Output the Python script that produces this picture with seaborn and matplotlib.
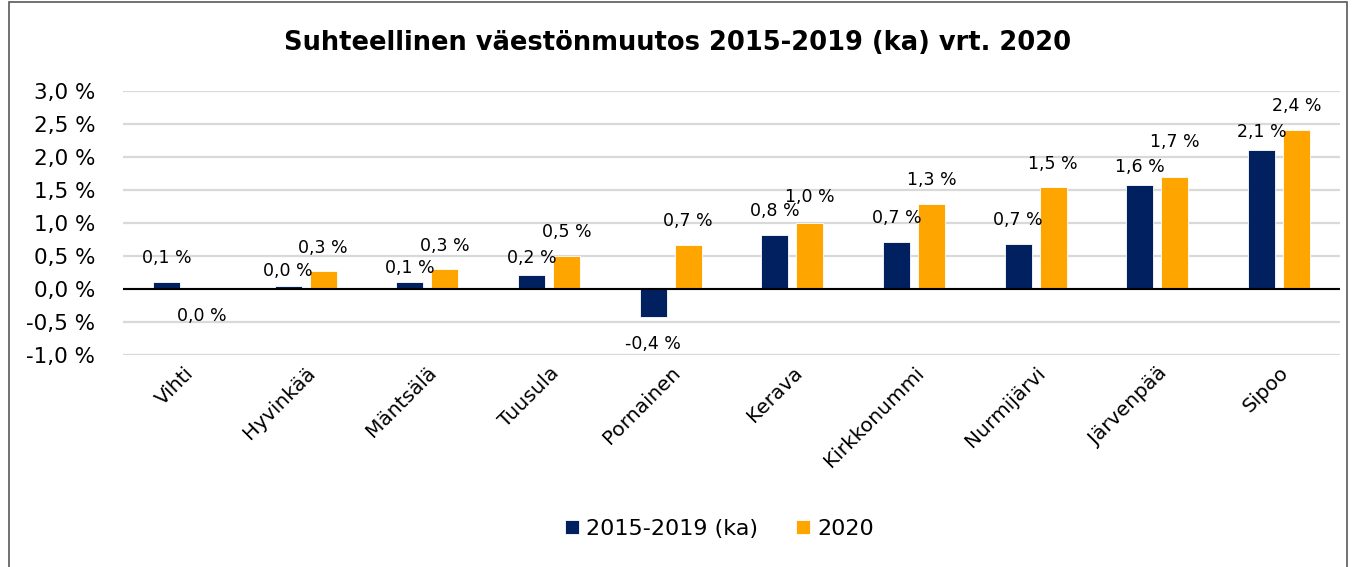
import pandas as pd
import matplotlib.pyplot as plt
import seaborn as sns
from matplotlib.ticker import FuncFormatter, MultipleLocator
from matplotlib.patches import Rectangle

# values (percent)
kunnat = ['Vihti', 'Hyvinkää', 'Mäntsälä', 'Tuusula', 'Pornainen',
          'Kerava', 'Kirkkonummi', 'Nurmijärvi', 'Järvenpää', 'Sipoo']
ka_2015_2019 = [0.11, 0.04, 0.10, 0.21, -0.43, 0.82, 0.71, 0.68, 1.58, 2.10]
v2020 = [-0.004, 0.27, 0.30, 0.50, 0.67, 1.00, 1.29, 1.54, 1.70, 2.41]
sarjat = ['2015-2019 (ka)', '2020']
varit = ['#002060', '#FFA500']

df = pd.DataFrame({
    'kunta': kunnat * 2,
    'sarja': [sarjat[0]] * len(kunnat) + [sarjat[1]] * len(kunnat),
    'arvo': ka_2015_2019 + v2020,
})

# label nudges (points) where Excel moved labels to avoid collisions
nudge = {(0, 1): -6, (0, 2): -7, (0, 3): -5, (0, 8): -4, (0, 9): -4,
         (1, 8): 8, (1, 5): 2}


def pct(v, pos=None):
    return f'{v:.1f} %'.replace('.', ',')


sns.set_style('white')
plt.rcParams['font.family'] = ['DejaVu Sans']
plt.rcParams['text.color'] = 'black'
plt.rcParams['xtick.color'] = 'black'
plt.rcParams['ytick.color'] = 'black'

fig = plt.figure(figsize=(13.55, 5.67), dpi=100)
ax = fig.add_axes([0.0908, 0.374, 0.898, 0.4655])

sns.barplot(data=df, x='kunta', y='arvo', hue='sarja', palette=varit,
            width=0.575, gap=0.23, ax=ax, saturation=1,
            edgecolor='white', linewidth=0.6)

ax.set_ylim(-1.0, 3.0)
ax.yaxis.set_major_locator(MultipleLocator(0.5))
ax.yaxis.set_major_formatter(FuncFormatter(pct))
ax.grid(axis='y', color='#D9D9D9', linewidth=1.6)
ax.set_axisbelow(True)
ax.axhline(0, color='black', linewidth=1.5, zorder=3)
for s in ax.spines.values():
    s.set_visible(False)
ax.set_xlabel('')
ax.set_ylabel('')
ax.tick_params(axis='y', labelsize=15.5, length=0, pad=20)
ax.tick_params(axis='x', labelsize=14.5, length=0, pad=6)
plt.setp(ax.get_xticklabels(), rotation=45, ha='right', rotation_mode='anchor')

# data labels
for i, cont in enumerate(ax.containers):
    for j, bar in enumerate(cont):
        v = bar.get_height()
        x = bar.get_x() + bar.get_width() / 2
        dy = nudge.get((i, j), 0)
        if v >= 0:
            ax.annotate(pct(v), (x, v), xytext=(0, 17 + dy), textcoords='offset points',
                        ha='center', va='center', fontsize=12.5)
        else:
            ax.annotate(pct(v).replace('-0,0', '0,0'), (x, v), xytext=(0, -19),
                        textcoords='offset points', ha='center', va='center', fontsize=12.5)

leg = ax.legend(loc='upper center', bbox_to_anchor=(0.49, -0.545), ncol=2,
                frameon=False, fontsize=16, handlelength=0.65, handleheight=0.65,
                handletextpad=0.3, columnspacing=1.7)

fig.suptitle('Suhteellinen väestönmuutos 2015-2019 (ka) vrt. 2020',
             x=0.5, y=0.947, fontsize=18.5, fontweight='bold')

# chart border
fig.patches.append(Rectangle((0.0066, -0.05), 0.9875, 1.046, transform=fig.transFigure,
                             fill=False, edgecolor='#595959', linewidth=1.2))

fig.savefig('out.png', dpi=100)
